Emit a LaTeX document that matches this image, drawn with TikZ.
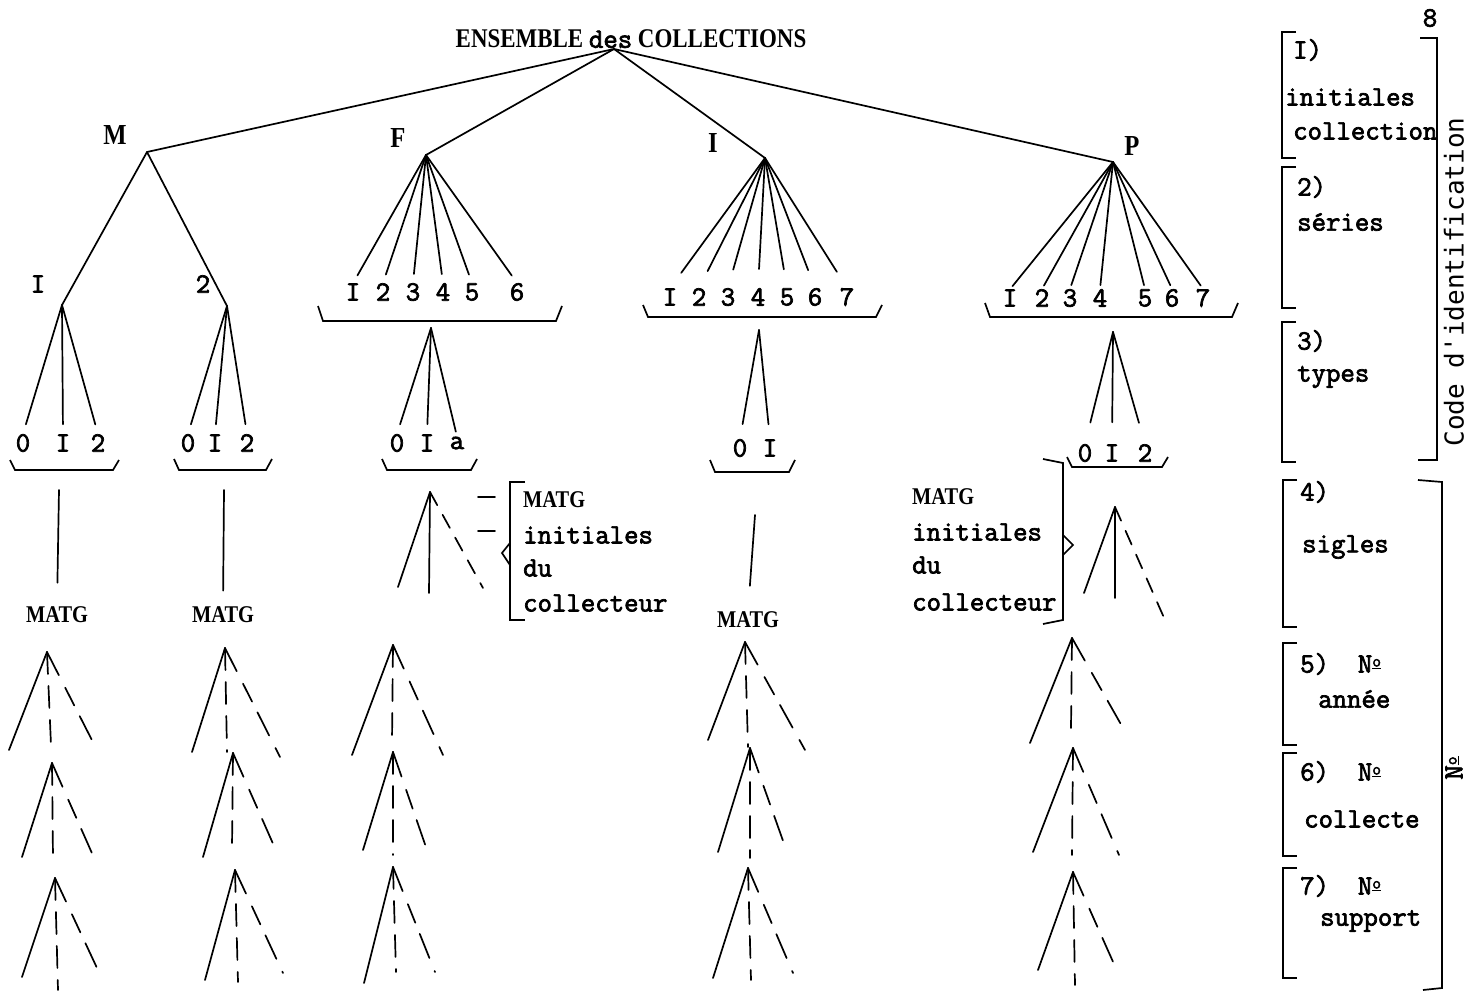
\documentclass[tikz,border=0pt]{standalone}
\usepackage{fontspec}
\newfontfamily\typew{Latin Modern Mono}[FakeBold=2.5]
\newfontfamily\capsf{Liberation Serif}[FakeStretch=0.85]
\newfontfamily\sansm{DejaVu Sans Mono}
\newcommand\numero{N\raisebox{0.5ex}{\fontsize{17}{17}\selectfont\underline{o}}}

\tikzset{
  txt/.style={font=\typew\fontsize{28}{34}\selectfont, inner sep=0pt},
  capl/.style={font=\capsf\bfseries\fontsize{24}{28}\selectfont, inner sep=0pt},
  bigl/.style={font=\capsf\bfseries\fontsize{29}{32}\selectfont, inner sep=0pt},
  titl/.style={font=\capsf\bfseries\fontsize{27}{30}\selectfont, inner sep=0pt},
  edge/.style={line width=1.7pt, line cap=round},
  dashv/.style={edge, dash pattern=on 22pt off 12pt},
  dashr/.style={edge, dash pattern=on 26pt off 14pt on 20pt off 12pt},
  dashs/.style={edge, dash pattern=on 15pt off 11pt},
  frame/.style={line width=1.7pt},
}

% one little tree: apex, solid left leg, dashed middle and right legs
\newcommand\lowtree[9]{%
  \coordinate (#1a) at (#2,#3);
  \coordinate (#1l) at (#4,#5);
  \coordinate (#1m) at (#6,#7);
  \coordinate (#1r) at (#8,#9);
  \draw[edge] (#1a) -- (#1l);
  \draw[dashv] (#1a) -- (#1m);
  \draw[dashr] (#1a) -- (#1r);
}
% hand-drawn underbrace: x left, x right, y of tick tops, y of bar
\newcommand\underbr[4]{\draw[frame] (#1,#3) -- (#1+5,#4) -- (#2-6,#4) -- (#2,#3);}
% legend bracket opening to the right
\newcommand\legbr[3]{\draw[frame] (#1+14,#2) -- (#1,#2) -- (#1,#3) -- (#1+14,#3);}

\begin{document}
\begin{tikzpicture}[x=1pt,y=-1pt]
\useasboundingbox (0,0) rectangle (1473,995);

% root and the four collections
\node[titl] (root) at (631,39) {ENSEMBLE {\typew\mdseries\fontsize{28}{30}\selectfont des} COLLECTIONS};
\coordinate (r) at (614,49);
\node[bigl] (Mlab) at (115,135) {M};  \coordinate (Ma) at (147,152);
\node[bigl] (Flab) at (398,138) {F};  \coordinate (Fa) at (426,155);
\node[bigl] (Ilab) at (713,143) {I};  \coordinate (Ia) at (765,158);
\node[bigl] (Plab) at (1132,146) {P}; \coordinate (Pa) at (1113,162);
\foreach \c in {Ma,Fa,Ia,Pa} \draw[edge] (r) -- (\c);

% ---- M ----
\node[txt] (m1) at (38,284) {I};  \coordinate (m1a) at (62,305);
\node[txt] (m2) at (203,284) {2}; \coordinate (m2a) at (227,306);
\draw[edge] (Ma) -- (m1a);
\draw[edge] (Ma) -- (m2a);
\node[txt] (m1t0) at (23,443) {0};
\node[txt] (m1t1) at (63,443) {I};
\node[txt] (m1t2) at (98,443) {2};
\foreach \n in {m1t0,m1t1,m1t2} \draw[edge, shorten >=10pt] (m1a) -- (\n.north);
\node[txt] (m2t0) at (188,443) {0};
\node[txt] (m2t1) at (215,443) {I};
\node[txt] (m2t2) at (247,443) {2};
\foreach \n in {m2t0,m2t1,m2t2} \draw[edge, shorten >=10pt] (m2a) -- (\n.north);
\underbr{10}{119}{460}{470}
\underbr{174}{272}{459}{470}
\coordinate (m1v) at (59,490);
\coordinate (m2v) at (224,490);
\node[capl] (m1M) at (57,615) {MATG};
\node[capl] (m2M) at (223,615) {MATG};
\draw[edge, shorten >=24pt] (m1v) -- (m1M.north);
\draw[edge, shorten >=16pt] (m2v) -- (m2M.north);

% ---- F ----
\node[txt] (f1) at (353,292) {I};
\node[txt] (f2) at (383,292) {2};
\node[txt] (f3) at (413,292) {3};
\node[txt] (f4) at (443,292) {4};
\node[txt] (f5) at (472,292) {5};
\node[txt] (f6) at (517,292) {6};
\foreach \n in {f1,f2,f3,f4,f5,f6} \draw[edge, shorten >=9pt] (Fa) -- (\n.north);
\underbr{318}{562}{306}{321}
\coordinate (fa2) at (431,328);
\node[txt] (ft0) at (397,443) {0};
\node[txt] (ft1) at (427,443) {I};
\node[txt] (ft2) at (457,443) {a};
\draw[edge, shorten >=10pt] (fa2) -- (ft0.north);
\draw[edge, shorten >=10pt] (fa2) -- (ft1.north);
\draw[edge, shorten >=5pt] (fa2) -- (ft2.north);
\underbr{382}{477}{459}{470}
\coordinate (fa3) at (430,492);
\coordinate (fa3l) at (398,587);
\coordinate (fa3m) at (429,593);
\coordinate (fa3r) at (483,588);
\draw[edge] (fa3) -- (fa3l);
\draw[edge] (fa3) -- (fa3m);
\draw[dashs] (fa3) -- (fa3r);
% note on the collector
\draw[edge] (478,497) -- (495,497);
\draw[edge] (478,531) -- (495,531);
\draw[frame] (525,482) -- (510,482) -- (510,620) -- (525,620);
\draw[frame] (510,543) -- (502,553) -- (510,565);
\node[capl, anchor=west] (fn1) at (523,500) {MATG};
\node[txt, anchor=west] (fn2) at (523,535) {initiales};
\node[txt, anchor=west] (fn3) at (523,568) {du};
\node[txt, anchor=west] (fn4) at (523,603) {collecteur};

% ---- I ----
\node[txt] (i1) at (670,297) {I};
\node[txt] (i2) at (699,297) {2};
\node[txt] (i3) at (728,297) {3};
\node[txt] (i4) at (758,297) {4};
\node[txt] (i5) at (787,297) {5};
\node[txt] (i6) at (815,297) {6};
\node[txt] (i7) at (847,297) {7};
\foreach \n in {i1,i2,i3,i4,i5,i6,i7} \draw[edge, shorten >=19pt] (Ia) -- (\n.north);
\underbr{643}{882}{305}{317}
\coordinate (ia2) at (759,330);
\node[txt] (it0) at (740,448) {0};
\node[txt] (it1) at (770,448) {I};
\draw[edge, shorten >=15pt] (ia2) -- (it0.north);
\draw[edge, shorten >=15pt] (ia2) -- (it1.north);
\underbr{710}{795}{460}{472}
\coordinate (iv) at (755,515);
\node[capl] (iM) at (748,620) {MATG};
\draw[edge, shorten >=26pt] (iv) -- (iM.north);

% ---- P ----
\node[txt] (p1) at (1010,298) {I};
\node[txt] (p2) at (1042,298) {2};
\node[txt] (p3) at (1070,298) {3};
\node[txt] (p4) at (1100,298) {4};
\node[txt] (p5) at (1145,298) {5};
\node[txt] (p6) at (1172,298) {6};
\node[txt] (p7) at (1203,298) {7};
\foreach \n in {p1,p2,p3,p4,p5,p6,p7} \draw[edge, shorten >=4pt] (Pa) -- (\n.north);
\underbr{985}{1238}{303}{317}
\coordinate (pa2) at (1113,332);
\node[txt] (pt0) at (1085,453) {0};
\node[txt] (pt1) at (1112,453) {I};
\node[txt] (pt2) at (1145,453) {2};
\foreach \n in {pt0,pt1,pt2} \draw[edge, shorten >=22pt] (pa2) -- (\n.north);
\underbr{1067}{1168}{457}{467}
\coordinate (pa3) at (1115,507);
\coordinate (pa3l) at (1084,593);
\coordinate (pa3m) at (1115,598);
\coordinate (pa3r) at (1165,620);
\draw[edge] (pa3) -- (pa3l);
\draw[edge] (pa3) -- (pa3m);
\draw[dashs] (pa3) -- (pa3r);
\draw[frame] (1043,459) -- (1063,463) -- (1063,620) -- (1043,624);
\draw[frame] (1063,535) -- (1073,545) -- (1063,555);
\node[capl, anchor=west] (pn1) at (912,497) {MATG};
\node[txt, anchor=west] (pn2) at (912,532) {initiales};
\node[txt, anchor=west] (pn3) at (912,565) {du};
\node[txt, anchor=west] (pn4) at (912,602) {collecteur};

% ---- lower levels: year, collecting number, support ----
\lowtree{c1x}{47}{652}{9}{750}{51}{745}{97}{750}
\lowtree{c1y}{52}{763}{22}{857}{53}{858}{95}{860}
\lowtree{c1z}{55}{878}{22}{977}{58}{990}{97}{968}
\lowtree{c2x}{225}{648}{192}{752}{227}{752}{280}{757}
\lowtree{c2y}{233}{753}{203}{857}{232}{848}{278}{855}
\lowtree{c2z}{235}{870}{205}{980}{238}{982}{283}{973}
\lowtree{c3x}{393}{645}{352}{755}{392}{742}{443}{755}
\lowtree{c3y}{393}{752}{363}{850}{393}{855}{427}{850}
\lowtree{c3z}{393}{867}{364}{983}{396}{972}{435}{972}
\lowtree{c4x}{745}{642}{708}{740}{748}{747}{805}{750}
\lowtree{c4y}{750}{748}{718}{852}{750}{858}{787}{852}
\lowtree{c4z}{748}{868}{713}{978}{751}{980}{793}{973}
\lowtree{c5x}{1072}{638}{1030}{743}{1071}{728}{1127}{735}
\lowtree{c5y}{1073}{748}{1033}{852}{1072}{855}{1119}{855}
\lowtree{c5z}{1073}{872}{1038}{970}{1075}{985}{1118}{973}

% ---- legend ----
\node[txt] (pg) at (1430,18) {8};
\legbr{1282}{32}{158}
\node[txt, anchor=west] (l1a) at (1293,50) {I)};
\node[txt, anchor=west] (l1b) at (1285,97) {initiales};
\node[txt, anchor=west] (l1c) at (1293,131) {collection};
\legbr{1282}{167}{308}
\node[txt, anchor=west] (l2a) at (1297,187) {2)};
\node[txt, anchor=west] (l2b) at (1297,222) {séries};
\legbr{1282}{322}{462}
\node[txt, anchor=west] (l3a) at (1297,341) {3)};
\node[txt, anchor=west] (l3b) at (1297,377) {types};
\draw[frame] (1420,38) -- (1437,38) -- (1437,460) -- (1418,460);
\node[rotate=90, inner sep=0pt, font=\sansm\fontsize{26}{28}\selectfont] (code) at (1454,282) {Code d'identification};

\legbr{1283}{480}{627}
\node[txt, anchor=west] (l4a) at (1300,492) {4)};
\node[txt, anchor=west] (l4b) at (1302,547) {sigles};
\legbr{1283}{643}{745}
\node[txt, anchor=west] (l5a) at (1300,664) {5)\ \ \numero};
\node[txt, anchor=west] (l5b) at (1318,699) {année};
\legbr{1283}{753}{856}
\node[txt, anchor=west] (l6a) at (1300,772) {6)\ \ \numero};
\node[txt, anchor=west] (l6b) at (1304,819) {collecte};
\legbr{1283}{868}{978}
\node[txt, anchor=west] (l7a) at (1300,886) {7)\ \ \numero};
\node[txt, anchor=west] (l7b) at (1320,921) {support};
\draw[frame] (1418,480) -- (1442,482) -- (1442,988) -- (1423,990);
\node[txt, rotate=90] (numr) at (1454,768) {\numero};
\end{tikzpicture}
\end{document}
